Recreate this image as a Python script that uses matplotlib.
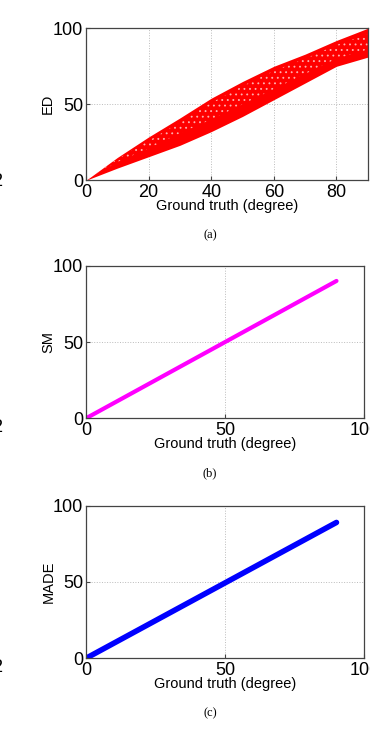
import matplotlib
matplotlib.use('Agg')
import matplotlib.pyplot as plt
import numpy as np

plt.rcParams['font.family'] = ['Liberation Sans', 'DejaVu Sans']
plt.rcParams['hatch.linewidth'] = 0.6

# ED: band of estimates (lower / upper edge)
ed_x = [0, 10, 20, 30, 40, 50, 60, 70, 80, 90]
ed_lower = [0, 8, 15.5, 23, 32, 42, 53, 64, 75, 81]
ed_upper = [0, 15, 28.5, 41, 54, 65, 75, 83, 92, 100]
# part of the band where the points thin out (white speckles)
ed_sparse_lo = [0, 12, 21, 31, 40, 50, 60, 70, 80, 86]
ed_sparse_hi = [0, 14, 26, 38, 51, 62, 72, 80, 89, 96]

# SM and MADE: near-identity lines
sm_x = [0, 90]
sm_y = [0, 90]
made_x = [0, 90]
made_y = [0, 89]

ed_ticks = [0, 20, 40, 60, 80]
other_ticks = [0, 50, 100]
y_ticks = [0, 50, 100]


def style_axes(ax, ylabel, xticks, xmax):
    ax.set_xlim(0, xmax)
    ax.set_ylim(0, 100)
    ax.set_xticks(xticks)
    ax.set_yticks(y_ticks)
    ax.tick_params(direction='in', length=3, labelsize=13, color='#444444')
    ax.tick_params(axis='x', pad=2.5)
    ax.tick_params(axis='y', pad=2)
    ax.grid(True, linestyle=':', color='#bbbbbb', linewidth=0.7)
    ax.set_axisbelow(True)
    for s in ax.spines.values():
        s.set_color('#444444')
        s.set_linewidth(0.9)
    ax.set_xlabel('Ground truth (degree)', fontsize=10.5)
    ax.xaxis.set_label_coords(0.5, -0.12)
    ax.set_ylabel(ylabel, fontsize=10.5)
    ax.yaxis.set_label_coords(-0.11, 0.5)


fig = plt.figure(figsize=(3.7, 7.37), dpi=100)

ax1 = fig.add_axes([0.2324, 0.7554, 0.7614, 0.2062])
ax1.fill_between(ed_x, ed_lower, ed_upper, color='red', linewidth=0)
ax1.fill_between(ed_x, ed_sparse_lo, ed_sparse_hi, facecolor='none',
                 edgecolor='#ffb0b0', hatch='...', linewidth=0)
style_axes(ax1, 'ED', ed_ticks, 90)

ax2 = fig.add_axes([0.2324, 0.4324, 0.7522, 0.2071])
ax2.plot(sm_x, sm_y, color='#ff00ff', linewidth=3, solid_capstyle='round')
style_axes(ax2, 'SM', other_ticks, 100)

ax3 = fig.add_axes([0.2324, 0.1068, 0.7522, 0.2071])
ax3.plot(made_x, made_y, color='#0000ff', linewidth=4, solid_capstyle='round')
style_axes(ax3, 'MADE', other_ticks, 100)

for label, y in [('(a)', 1 - 235 / 737), ('(b)', 1 - 473 / 737), ('(c)', 1 - 713 / 737)]:
    fig.text(0.568, y, label, ha='center', va='center', fontsize=9,
             family='Liberation Serif')

# clipped glyphs from a neighbouring figure at the left edge
for y in [1 - 182 / 737, 1 - 427 / 737, 1 - 667 / 737]:
    fig.text(-0.02, y, '2', ha='left', va='center', fontsize=13)

fig.savefig('out.png', dpi=100)
